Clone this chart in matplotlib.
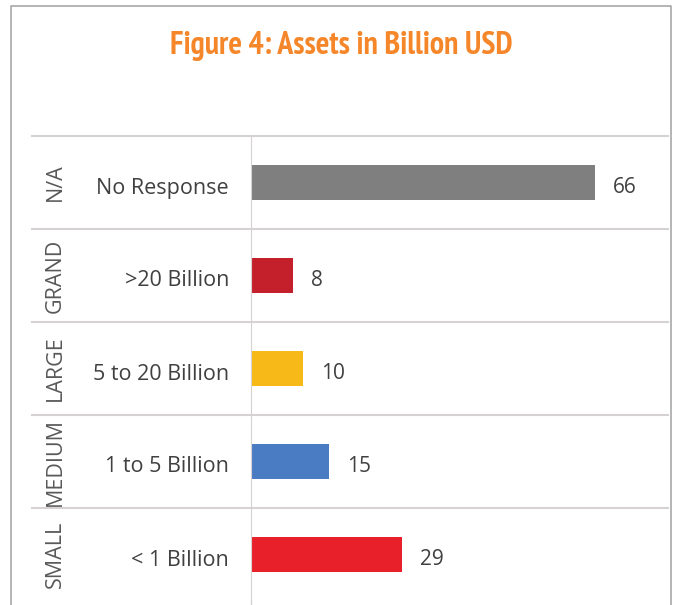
import matplotlib.pyplot as plt
from matplotlib.lines import Line2D

# data, top to bottom
groups = ["N/A", "GRAND", "LARGE", "MEDIUM", "SMALL"]
labels = ["No Response", ">20 Billion", "5 to 20 Billion", "1 to 5 Billion", "< 1 Billion"]
values = [66, 8, 10, 15, 29]
colors = ["#7f7f7f", "#c3202b", "#f7b918", "#4a7cc4", "#e8202a"]

W, H = 675, 605
fig = plt.figure(figsize=(W / 100, H / 100), dpi=100)

def fx(px):
    return px / W

def fy(py):
    return 1 - py / H

# outer frame (bottom edge runs off the picture)
fig.add_artist(Line2D([fx(11), fx(11), fx(671), fx(671)],
                      [0, fy(6), fy(6), 0], color="#a8a8a8", lw=1.2))

narrow = ["PT Sans Narrow", "Roboto Condensed", "Archivo Narrow",
          "Liberation Sans Narrow", "DejaVu Sans"]
fig.text(fx(341), fy(46), "Figure 4: Assets in Billion USD",
         family=narrow, weight="bold", fontsize=23, color="#f5862a",
         ha="center", va="center")

top, row_h = 136, 93
n = len(values)
ax = fig.add_axes([fx(251), fy(top + n * row_h), fx(668) - fx(251), (n * row_h) / H])
ax.set_xlim(0, 80)
ax.set_ylim(n, 0)
ypos = [i + 0.5 for i in range(n)]
ax.barh(ypos, values, height=0.37, color=colors)
for y, v in zip(ypos, values):
    ax.annotate(str(v), (v, y), xytext=(13, -2), textcoords="offset points",
                va="center_baseline", ha="left", fontsize=15, color="#404040",
                family=["Open Sans", "DejaVu Sans"])
for s in ["top", "right", "bottom"]:
    ax.spines[s].set_visible(False)
ax.spines["left"].set_color("#d6d2d2")
ax.set_xticks([])
ax.set_yticks([])

# row separators
for i in range(n):
    yy = fy(top + i * row_h)
    fig.add_artist(Line2D([fx(32), fx(668)], [yy, yy], color="#d6d2d2", lw=1.5))
fig.add_artist(Line2D([fx(251), fx(251)], [fy(top + n * row_h), 0], color="#d6d2d2", lw=1.0))

for i, (g, lab) in enumerate(zip(groups, labels)):
    yc = fy(top + (i + 0.5) * row_h + 3)
    fig.text(fx(229), yc, lab, ha="right", va="center_baseline", fontsize=15.5,
             color="#404040", family=["Open Sans", "DejaVu Sans"])
    fig.text(fx(55), fy(top + (i + 0.5) * row_h), g, ha="center", va="center",
             rotation=90, fontsize=15.5, color="#595959",
             family=["Open Sans", "DejaVu Sans"])

fig.savefig("out.png", dpi=100)
